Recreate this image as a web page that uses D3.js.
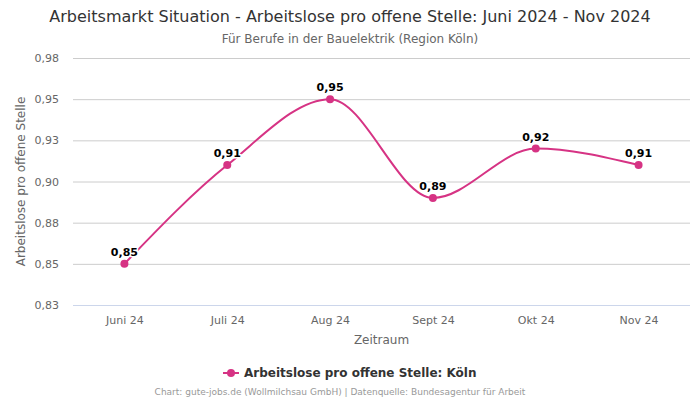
<!DOCTYPE html>
<html><head><meta charset="utf-8">
<script src="https://cdn.jsdelivr.net/npm/d3@7"></script>
<style>body{margin:0;background:#fff;font-family:"DejaVu Sans",sans-serif;}</style>
</head><body>
<svg id="c" width="700" height="400"></svg>
<script>
const categories = ["Juni 24","Juli 24","Aug 24","Sept 24","Okt 24","Nov 24"];
const values = [0.85, 0.91, 0.95, 0.89, 0.92, 0.91];
const valueLabels = ["0,85","0,91","0,95","0,89","0,92","0,91"];
const yTicks = [0.825, 0.85, 0.875, 0.90, 0.925, 0.95, 0.975];
const yTickLabels = ["0,83","0,85","0,88","0,90","0,93","0,95","0,98"];
const seriesName = "Arbeitslose pro offene Stelle: Köln";
const color = "#d63384";

const svg = d3.select("#c");
const m = {l:73, r:10, t:58, b:95};
const W = 700, H = 400;
const x = d3.scalePoint().domain(categories).range([m.l, W - m.r]).padding(0.5);
const y = d3.scaleLinear().domain([0.825, 0.975]).range([H - m.b, m.t]);

svg.append("text").attr("x",350).attr("y",22).attr("text-anchor","middle")
  .attr("font-size",16).attr("fill","#333").text("Arbeitsmarkt Situation - Arbeitslose pro offene Stelle: Juni 2024 - Nov 2024");
svg.append("text").attr("x",350).attr("y",43).attr("text-anchor","middle")
  .attr("font-size",12).attr("fill","#666").text("Für Berufe in der Bauelektrik (Region Köln)");

const yAxis = d3.axisLeft(y).tickValues(yTicks).tickSize(-(W - m.r - m.l))
  .tickFormat((d,i) => yTickLabels[i]).tickPadding(14);
const gy = svg.append("g").attr("transform",`translate(${m.l},0)`).call(yAxis);
gy.select(".domain").remove();
gy.selectAll(".tick line").attr("stroke","#cccccc");
gy.selectAll(".tick text").attr("font-size",11).attr("fill","#666").attr("font-family","DejaVu Sans");
gy.selectAll(".tick").filter(d => d === 0.825).select("line").attr("stroke","#ccd6eb");

const xAxis = d3.axisBottom(x).tickSize(0).tickPadding(11);
const gx = svg.append("g").attr("transform",`translate(0,${H - m.b})`).call(xAxis);
gx.select(".domain").remove();
gx.selectAll(".tick text").attr("font-size",11).attr("fill","#666").attr("font-family","DejaVu Sans");

svg.append("text").attr("x",(m.l + W - m.r)/2).attr("y",344).attr("text-anchor","middle")
  .attr("font-size",12).attr("fill","#666").text("Zeitraum");
svg.append("text").attr("transform",`translate(25,${(m.t + H - m.b)/2}) rotate(-90)`).attr("text-anchor","middle")
  .attr("font-size",12).attr("fill","#666").text("Arbeitslose pro offene Stelle");

const line = d3.line().x((d,i) => x(categories[i])).y(d => y(d)).curve(d3.curveMonotoneX);
svg.append("path").datum(values).attr("d", line).attr("fill","none").attr("stroke",color).attr("stroke-width",2);
svg.selectAll("circle.pt").data(values).join("circle").attr("class","pt")
  .attr("cx",(d,i) => x(categories[i])).attr("cy", d => y(d)).attr("r",4).attr("fill",color);
svg.selectAll("text.lbl").data(values).join("text").attr("class","lbl")
  .attr("x",(d,i) => x(categories[i])).attr("y", d => y(d) - 8).attr("text-anchor","middle")
  .attr("font-size",11).attr("font-weight","bold").attr("fill","#000")
  .attr("stroke","#fff").attr("stroke-width",3).attr("paint-order","stroke").text((d,i) => valueLabels[i]);

const lg = svg.append("g").attr("transform","translate(0,373)");
lg.append("line").attr("x1",223).attr("x2",239).attr("y1",0).attr("y2",0).attr("stroke",color).attr("stroke-width",2);
lg.append("circle").attr("cx",231).attr("cy",0).attr("r",4).attr("fill",color);
lg.append("text").attr("x",244).attr("y",4).attr("font-size",12).attr("font-weight","bold").attr("fill","#333").text(seriesName);

svg.append("text").attr("x",340).attr("y",395).attr("text-anchor","middle")
  .attr("font-size",9).attr("fill","#999").text("Chart: gute-jobs.de (Wollmilchsau GmbH) | Datenquelle: Bundesagentur für Arbeit");
</script>
</body></html>
